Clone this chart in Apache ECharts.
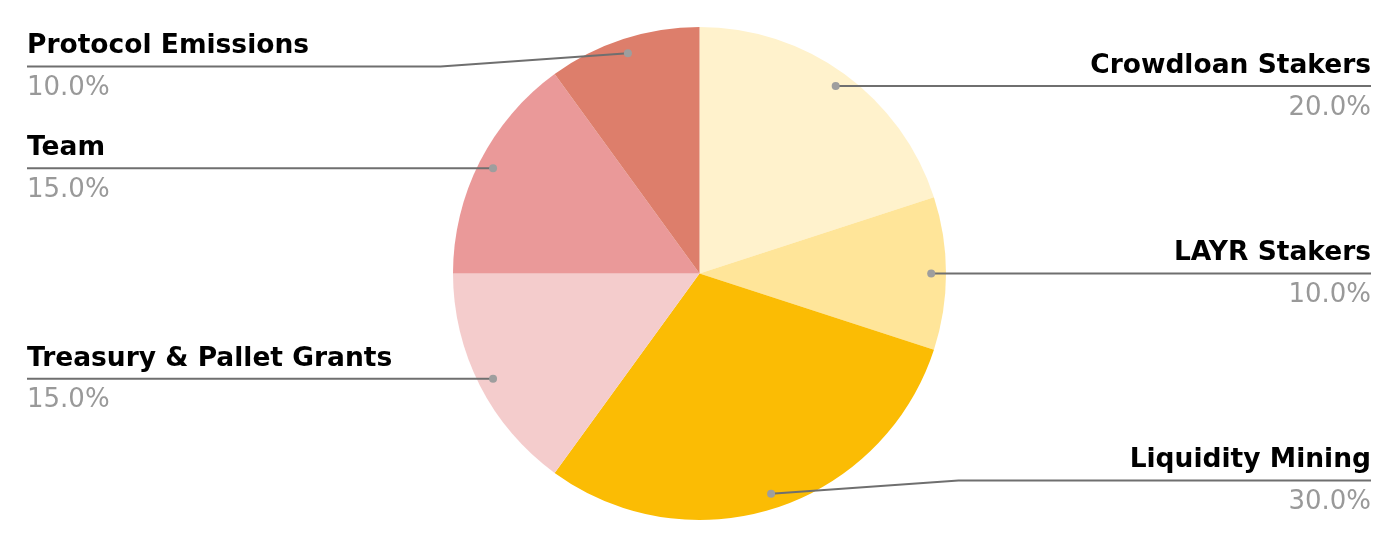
<!DOCTYPE html>
<html><head><meta charset="utf-8">
<script src="https://cdn.jsdelivr.net/npm/echarts@6/dist/echarts.min.js"></script>
<style>html,body{margin:0;padding:0;background:#fff}#chart{width:1400px;height:548px}</style>
</head><body><div id="chart"></div>
<script>
const categories = ['Crowdloan Stakers', 'LAYR Stakers', 'Liquidity Mining', 'Treasury & Pallet Grants', 'Team', 'Protocol Emissions'];
const values = [20, 10, 30, 15, 15, 10];
const colors = ['#fff2cc', '#ffe599', '#fbbc04', '#f4cccc', '#ea9999', '#dd7e6b'];

const W = 1400, H = 548;
const CX = 699.5, CY = 273.5, R = 246.5;
const DOT = 0.94;           // dot position as fraction of radius
const CLAMP = 207;          // max vertical offset of label line from centre
const KINK = 259;           // horizontal offset of the line kink from centre
const EDGE = 27;
const FONT = '"DejaVu Sans", "Liberation Sans", Arial, sans-serif';

const total = values.reduce((a, b) => a + b, 0);
const mids = [];
let acc = 0;
values.forEach(v => { mids.push((acc + v / 2) / total); acc += v; });

const chart = echarts.init(document.getElementById('chart'), null, { renderer: 'canvas' });

function geom(i) {
  const t = mids[i] * Math.PI * 2;
  const dx = Math.sin(t), dy = -Math.cos(t);
  const px = CX + DOT * R * dx, py = CY + DOT * R * dy;
  const ly = Math.max(CY - CLAMP, Math.min(CY + CLAMP, py));
  const right = dx > -1e-9;
  return { px, py, ly, right };
}

const pieBase = {
  type: 'pie',
  center: [CX, CY],
  radius: R,
  startAngle: 90,
  clockwise: true,
  silent: true,
  avoidLabelOverlap: false,
  emphasis: { disabled: true },
};

chart.setOption({
  animation: false,
  backgroundColor: '#ffffff',
  polar: { center: [CX, CY], radius: R },
  angleAxis: { type: 'value', min: 0, max: 1, startAngle: 90, clockwise: true, show: false },
  radiusAxis: { type: 'value', min: 0, max: 1, show: false },
  series: [
    Object.assign({}, pieBase, {
      z: 2,
      itemStyle: { borderWidth: 0 },
      label: { show: false },
      labelLine: { show: false },
      data: categories.map((c, i) => ({ name: c, value: values[i], itemStyle: { color: colors[i] } }))
    }),
    Object.assign({}, pieBase, {
      z: 5,
      itemStyle: { color: 'rgba(0,0,0,0)', borderWidth: 0 },
      data: categories.map((c, i) => ({ name: c, value: values[i] })),
      label: {
        show: true,
        position: 'outside',
        formatter: p => '{n|' + p.name + '}\n{p|' + p.percent.toFixed(1) + '%}',
        rich: {
          n: { fontFamily: FONT, fontWeight: 'bold', fontSize: 26.5, color: '#000000', lineHeight: 42 },
          p: { fontFamily: FONT, fontSize: 26, color: '#999999', lineHeight: 42 }
        }
      },
      labelLine: { show: true, length: 10, length2: 10, smooth: false, lineStyle: { color: '#6f6f6f', width: 2 } },
      labelLayout: function (params) {
        const g = geom(params.dataIndex);
        const kx = g.right ? CX + KINK : CX - KINK;
        const ex = g.right ? W - EDGE - 2 : EDGE;
        return {
          x: ex,
          y: g.ly + 1,
          align: g.right ? 'right' : 'left',
          verticalAlign: 'middle',
          hideOverlap: false,
          labelLinePoints: [[g.px, g.py], [kx, g.ly], [ex, g.ly]]
        };
      }
    }),
    {
      type: 'scatter',
      coordinateSystem: 'polar',
      z: 10,
      silent: true,
      symbol: 'circle',
      symbolSize: 8,
      itemStyle: { color: '#9e9e9e', opacity: 1 },
      emphasis: { disabled: true },
      data: mids.map(m => [DOT, m])
    }
  ]
});
</script>
</body></html>
